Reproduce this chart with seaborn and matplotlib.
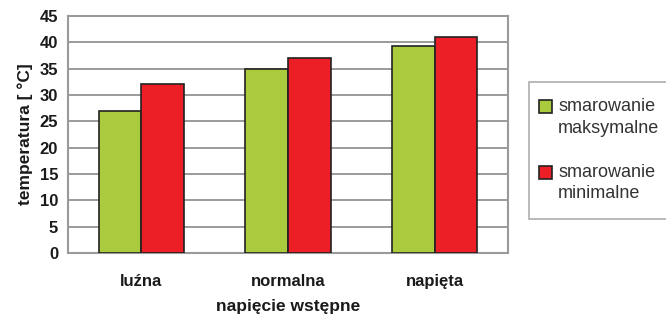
import pandas as pd
import seaborn as sns
import matplotlib.pyplot as plt
from matplotlib.patches import Rectangle
from matplotlib.legend_handler import HandlerPatch
from matplotlib.ticker import MultipleLocator, FixedLocator

# data
categories = ['luźna', 'normalna', 'napięta']
series_names = ['smarowanie\nmaksymalne', 'smarowanie\nminimalne']
max_lubrication = [27, 35, 39.2]
min_lubrication = [32, 37, 41]

df = pd.DataFrame({
    'napiecie': categories * 2,
    'seria': [series_names[0]] * 3 + [series_names[1]] * 3,
    'temperatura': max_lubrication + min_lubrication,
})

sns.set_style('white')
plt.rcParams['font.family'] = ['Liberation Sans', 'DejaVu Sans']

fig = plt.figure(figsize=(6.66, 3.18), dpi=100)
ax = fig.add_axes([0.102, 0.204, 0.661, 0.746])

palette = ['#AACB3E', '#ED1F26']
sns.barplot(data=df, x='napiecie', y='temperatura', hue='seria', palette=palette,
            width=0.58, edgecolor='#222222', linewidth=1.2, saturation=1, ax=ax, zorder=3)

ax.set_ylim(0, 45)
ax.set_xlim(-0.5, 2.5)
ax.yaxis.set_major_locator(MultipleLocator(5))
ax.grid(axis='y', color='#8a8a8a', linewidth=1.2, zorder=0)
ax.set_axisbelow(True)

for side in ['left', 'right', 'bottom', 'top']:
    ax.spines[side].set_color('#9a9a9a')
    ax.spines[side].set_linewidth(1.5)

# x ticks at category boundaries
ax.xaxis.set_minor_locator(FixedLocator([-0.5, 0.5, 1.5, 2.5]))
ax.tick_params(axis='x', which='major', length=0, pad=15, labelsize=12)
ax.tick_params(axis='x', which='minor', length=4, color='#9a9a9a', width=1.2)
ax.tick_params(axis='y', which='major', length=4, color='#9a9a9a', width=1.2, pad=3, labelsize=12)
for lbl in ax.get_xticklabels() + ax.get_yticklabels():
    lbl.set_fontweight('bold')
    lbl.set_color('#1a1a1a')

ax.set_xlabel('napięcie wstępne', fontsize=12.5, fontweight='bold', labelpad=7, color='#1a1a1a')
ax.set_ylabel('temperatura [ °C]', fontsize=12.5, fontweight='bold', labelpad=5, color='#1a1a1a')


# legend square sits next to the first text line
def top_square(legend, orig_handle, xdescent, ydescent, width, height, fontsize):
    return Rectangle((-xdescent - 4, -ydescent + 0.62 * fontsize), width, height)


handles, labels = ax.get_legend_handles_labels()
ax.get_legend().remove()
leg = fig.legend(handles, labels, loc='upper left', bbox_to_anchor=(0.794, 0.742),
                 frameon=True, fancybox=False, fontsize=13, handlelength=0.72, handleheight=0.72,
                 handletextpad=0.0, labelspacing=1.5, borderpad=0.9, borderaxespad=0,
                 handler_map={h: HandlerPatch(patch_func=top_square) for h in handles})
leg.get_frame().set_edgecolor('#9a9a9a')
leg.get_frame().set_linewidth(1.2)
for t in leg.get_texts():
    t.set_color('#333333')
    t.set_linespacing(1.35)

fig.savefig('out.png', dpi=100)
